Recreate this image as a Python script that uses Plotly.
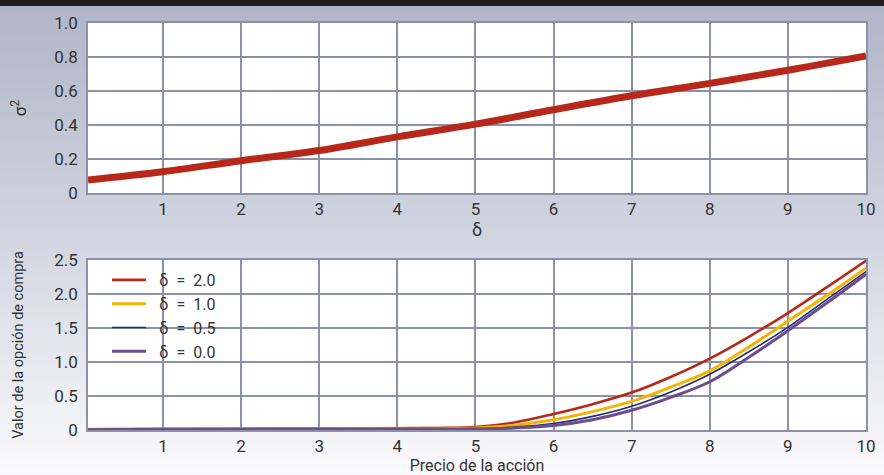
import plotly.graph_objects as go

# ---- data ----
delta_x = [0.04, 1, 2, 3, 4, 5, 6, 7, 8, 9, 10]
sigma2 = [0.077, 0.125, 0.19, 0.25, 0.33, 0.405, 0.49, 0.572, 0.645, 0.722, 0.806]

price = [0.04, 1, 2, 3, 4, 4.5, 5, 5.5, 6, 6.5, 7, 7.5, 8, 8.5, 9, 9.5, 10]
call_d20 = [0.01, 0.015, 0.02, 0.02, 0.025, 0.03, 0.045, 0.11, 0.235, 0.38, 0.55, 0.78, 1.05, 1.37, 1.72, 2.1, 2.49]
call_d10 = [0.01, 0.015, 0.02, 0.02, 0.025, 0.025, 0.03, 0.07, 0.15, 0.27, 0.42, 0.63, 0.87, 1.22, 1.60, 1.98, 2.38]
call_d05 = [0.005, 0.01, 0.015, 0.015, 0.02, 0.02, 0.02, 0.045, 0.095, 0.2, 0.35, 0.56, 0.82, 1.15, 1.51, 1.92, 2.33]
call_d00 = [0.005, 0.01, 0.012, 0.015, 0.015, 0.015, 0.015, 0.03, 0.065, 0.15, 0.29, 0.48, 0.71, 1.07, 1.46, 1.87, 2.29]

series_names = ["\u2002δ\u2002=\u20022.0", "\u2002δ\u2002=\u20021.0", "\u2002δ\u2002=\u20020.5", "\u2002δ\u2002=\u20020.0"]
series_vals = [call_d20, call_d10, call_d05, call_d00]
series_colors = ["#b8281a", "#f4b400", "#1f2d78", "#6f4c8c"]
series_widths = [2.6, 3.0, 1.6, 3.0]

x_ticks = [1, 2, 3, 4, 5, 6, 7, 8, 9, 10]
y1_ticks = [0, 0.2, 0.4, 0.6, 0.8, 1.0]
y1_labels = ["0", "0.2", "0.4", "0.6", "0.8", "1.0"]
y2_ticks = [0, 0.5, 1.0, 1.5, 2.0, 2.5]
y2_labels = ["0", "0.5", "1.0", "1.5", "2.0", "2.5"]

FONT = "Roboto, sans-serif"
GRID = "#8a91a8"
TXT = "#333333"

fig = go.Figure()
fig.add_trace(go.Scatter(x=delta_x, y=sigma2, mode="lines", line=dict(color="#b8281a", width=7, shape="spline"),
                         showlegend=False, xaxis="x", yaxis="y"))
for n, v, c, w in zip(series_names, series_vals, series_colors, series_widths):
    fig.add_trace(go.Scatter(x=price, y=v, mode="lines", name=n, line=dict(color=c, width=w, shape="spline"),
                             xaxis="x2", yaxis="y2"))

W, H = 884, 475
def px_x(a, b):
    return [a / W, b / W]
def px_y(top, bot):
    return [(H - bot) / H, (H - top) / H]

# background gradient
shapes = []
N = 80
for i in range(N):
    y0 = 6 + (H - 6) * i / N
    y1 = 6 + (H - 6) * (i + 1) / N
    t = i / (N - 1)
    if t < 0.5:
        u = t / 0.5
        c0, c1 = (176, 182, 200), (210, 213, 224)
    else:
        u = (t - 0.5) / 0.5
        c0, c1 = (210, 213, 224), (250, 250, 252)
    col = tuple(round(c0[k] + (c1[k] - c0[k]) * u) for k in range(3))
    shapes.append(dict(type="rect", xref="paper", yref="paper", x0=0, x1=1,
                       y0=(H - y1) / H - 0.001, y1=(H - y0) / H + 0.001,
                       fillcolor="rgb(%d,%d,%d)" % col, line=dict(width=0), layer="below"))
shapes.append(dict(type="rect", xref="paper", yref="paper", x0=0, x1=1, y0=(H - 6) / H, y1=1,
                   fillcolor="#231f20", line=dict(width=0), layer="below"))
# white plot areas
for (top, bot) in [(23, 193), (260, 430)]:
    d = px_y(top, bot)
    shapes.append(dict(type="rect", xref="paper", yref="paper", x0=88 / W, x1=866 / W, y0=d[0], y1=d[1],
                       fillcolor="#ffffff", line=dict(width=0), layer="below"))

axis_common = dict(showgrid=True, gridcolor=GRID, gridwidth=1.5, showline=True, linecolor=GRID, linewidth=1.5,
                   mirror=True, zeroline=False, ticks="", automargin=False,
                   tickfont=dict(family=FONT, size=17, color=TXT))

fig.update_layout(
    width=W, height=H,
    margin=dict(l=0, r=0, t=0, b=0, autoexpand=False),
    paper_bgcolor="#ffffff",
    plot_bgcolor="rgba(0,0,0,0)",
    shapes=shapes,
    font=dict(family=FONT, color=TXT),
    xaxis=dict(domain=px_x(88, 866), range=[0.04, 10], anchor="y", tickvals=x_ticks,
               title=dict(text="δ", font=dict(size=18, family=FONT, color=TXT), standoff=2), **axis_common),
    yaxis=dict(domain=px_y(23, 193), range=[0, 1.0], anchor="x", tickvals=y1_ticks, ticktext=y1_labels,
               ticklabelstandoff=5,
               title=dict(text="σ<sup>2</sup>", font=dict(size=17, family=FONT, color=TXT), standoff=23), **axis_common),
    xaxis2=dict(domain=px_x(88, 866), range=[0.04, 10], anchor="y2", tickvals=x_ticks,
                title=dict(text="Precio de la acción", font=dict(size=16, family=FONT, color=TXT), standoff=2),
                **axis_common),
    yaxis2=dict(domain=px_y(260, 430), range=[0, 2.5], anchor="x2", tickvals=y2_ticks, ticktext=y2_labels,
                ticklabelstandoff=5,
                title=dict(text="Valor de la opción de compra", font=dict(size=14.5, family=FONT, color=TXT), standoff=27),
                **axis_common),
    legend=dict(x=107 / W, y=(H - 263) / H, xanchor="left", yanchor="top", bgcolor="rgba(0,0,0,0)",
                font=dict(family=FONT, size=16, color=TXT), itemwidth=34, tracegroupgap=0),
)

fig.write_html("out.html", config={"displayModeBar": False},
               post_script="document.body.style.margin='0';document.body.style.overflow='hidden';")
